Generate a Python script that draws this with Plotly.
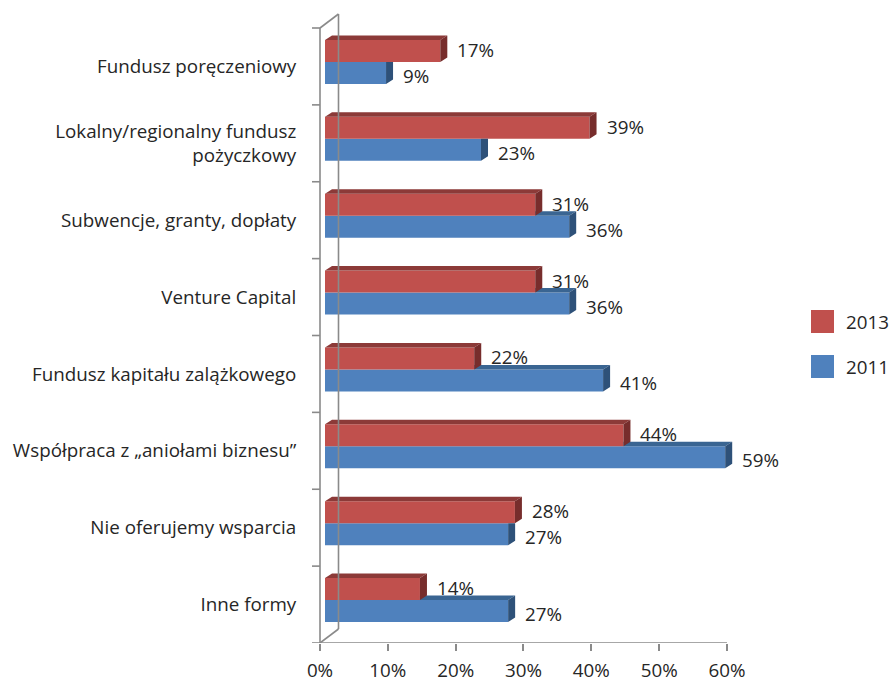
import plotly.graph_objects as go

# Survey answers: forms of financial support offered (share of respondents, %)
categories = [
    "Fundusz poręczeniowy",
    "Lokalny/regionalny fundusz<br>pożyczkowy",
    "Subwencje, granty, dopłaty",
    "Venture Capital",
    "Fundusz kapitału zalążkowego",
    "Współpraca z „aniołami biznesu”",
    "Nie oferujemy wsparcia",
    "Inne formy",
]
values_2013 = [17, 39, 31, 31, 22, 44, 28, 14]
values_2011 = [9, 23, 36, 36, 41, 59, 27, 27]
series_names = ["2013", "2011"]
x_tick_values = [0, 10, 20, 30, 40, 50, 60]
x_tick_labels = ["0%", "10%", "20%", "30%", "40%", "50%", "60%"]

# Figure / plot-area geometry (pixels)
W, H = 890, 686
M_L, M_R, M_T, M_B = 311, 150, 12, 43
PX_PER_PCT = 6.783          # horizontal scale of the front plane
PX_PER_CAT = 76.875         # height of one category band
X0_PX = 320                 # pixel position of 0 %
plot_w = W - M_L - M_R
plot_h = H - M_T - M_B
x_min = -(X0_PX - M_L) / PX_PER_PCT
x_max = x_min + plot_w / PX_PER_PCT
y_max = plot_h / PX_PER_CAT

n = len(categories)
centers = [n - i - 0.5 for i in range(n)]

# 3-D look: bars sit a little behind the front plane, with a top and side face
BAR_SHIFT_X = 5 / PX_PER_PCT
DEPTH_X = 7 / PX_PER_PCT
DEPTH_Y = 4.5 / PX_PER_CAT
BAR_H = 22 / PX_PER_CAT
RED_OFF = 15.5 / PX_PER_CAT
BLUE_OFF = -6.5 / PX_PER_CAT
WALL_X = 18.5 / PX_PER_PCT
WALL_Y = 14 / PX_PER_CAT

RED, RED_TOP, RED_SIDE = "#C0504D", "#8C3A38", "#772D2C"
BLUE, BLUE_TOP, BLUE_SIDE = "#4F81BD", "#3A6592", "#2E5179"
AXIS = "#8A8A8A"
TEXT = "#262626"
FONT = "Open Sans"
FS = 18.8

fig = go.Figure()


def poly_trace(polys, color):
    xs, ys = [], []
    for p in polys:
        for (px, py) in p + [p[0]]:
            xs.append(px)
            ys.append(py)
        xs.append(None)
        ys.append(None)
    return go.Scatter(x=xs, y=ys, mode="lines", fill="toself", fillcolor=color,
                      line=dict(width=0, color=color), hoverinfo="skip",
                      showlegend=False)


red_y = [c + RED_OFF for c in centers]
blue_y = [c + BLUE_OFF for c in centers]

# Front faces
fig.add_trace(go.Bar(name=series_names[1], y=blue_y, x=values_2011,
                     base=[BAR_SHIFT_X] * n, orientation="h", width=BAR_H,
                     marker=dict(color=BLUE, line=dict(width=0)),
                     showlegend=False))
fig.add_trace(go.Bar(name=series_names[0], y=red_y, x=values_2013,
                     base=[BAR_SHIFT_X] * n, orientation="h", width=BAR_H,
                     marker=dict(color=RED, line=dict(width=0)),
                     showlegend=False))

# Top and side faces of the 2011 bars (the parts not hidden by the 2013 bars)
blue_tops, blue_sides = [], []
for yb, vb, vr in zip(blue_y, values_2011, values_2013):
    x0 = BAR_SHIFT_X
    xb = x0 + vb
    xr = x0 + vr
    lo, hi = yb - BAR_H / 2, yb + BAR_H / 2
    if xb > xr:
        blue_tops.append([(xr, hi), (xb, hi), (xb + DEPTH_X, hi + DEPTH_Y),
                          (xr, hi + DEPTH_Y)])
        blue_sides.append([(xb, lo), (xb, hi), (xb + DEPTH_X, hi + DEPTH_Y),
                           (xb + DEPTH_X, lo + DEPTH_Y)])
    else:
        blue_sides.append([(xb, lo), (xb, hi), (xb + DEPTH_X, hi),
                           (xb + DEPTH_X, lo + DEPTH_Y)])
fig.add_trace(poly_trace(blue_tops, BLUE_TOP))
fig.add_trace(poly_trace(blue_sides, BLUE_SIDE))

# Top and side faces of the 2013 bars
red_tops, red_sides = [], []
for yr, vr in zip(red_y, values_2013):
    x0 = BAR_SHIFT_X
    xr = x0 + vr
    lo, hi = yr - BAR_H / 2, yr + BAR_H / 2
    red_tops.append([(x0, hi), (xr, hi), (xr + DEPTH_X, hi + DEPTH_Y),
                     (x0 + DEPTH_X, hi + DEPTH_Y)])
    red_sides.append([(xr, lo), (xr, hi), (xr + DEPTH_X, hi + DEPTH_Y),
                      (xr + DEPTH_X, lo + DEPTH_Y)])
fig.add_trace(poly_trace(red_tops, RED_TOP))
fig.add_trace(poly_trace(red_sides, RED_SIDE))

# Value labels
annotations = []
for ys, vals, dy in ((red_y, values_2013, 1), (blue_y, values_2011, -3)):
    for y, v in zip(ys, vals):
        annotations.append(dict(x=BAR_SHIFT_X + v + DEPTH_X, y=y, xref="x", yref="y",
                                text=f"{v}%", showarrow=False, xanchor="left",
                                yanchor="middle", xshift=8, yshift=dy,
                                font=dict(family=FONT, size=FS, color=TEXT)))

# Frame: front axis line, back wall edge, connecting obliques, floor line, left ticks
shapes = []
line_style = dict(color=AXIS, width=1.6)
shapes.append(dict(type="line", xref="x", yref="y", x0=0, y0=0, x1=0, y1=n, line=line_style))
shapes.append(dict(type="line", xref="x", yref="y", x0=WALL_X, y0=WALL_Y,
                   x1=WALL_X, y1=n + WALL_Y, line=line_style))
shapes.append(dict(type="line", xref="x", yref="y", x0=0, y0=0, x1=WALL_X, y1=WALL_Y, line=line_style))
shapes.append(dict(type="line", xref="x", yref="y", x0=0, y0=n, x1=WALL_X, y1=n + WALL_Y, line=line_style))
shapes.append(dict(type="line", xref="x", yref="y", x0=0, y0=0, x1=x_tick_values[-1], y1=0, line=line_style))
for k in range(n + 1):
    shapes.append(dict(type="line", xref="x", yref="y", x0=-8 / PX_PER_PCT, y0=k,
                       x1=0, y1=k, line=line_style))


# Legend drawn as squares with labels to the right
def px_to_paper(px, py):
    return (px - M_L) / plot_w, (H - M_B - py) / plot_h


for name, color, top_px in ((series_names[0], RED, 310), (series_names[1], BLUE, 355)):
    ax0, ay1 = px_to_paper(811, top_px)
    ax1, ay0 = px_to_paper(834, top_px + 23)
    shapes.append(dict(type="rect", xref="paper", yref="paper", x0=ax0, x1=ax1,
                       y0=ay0, y1=ay1, fillcolor=color, line=dict(width=0)))
    tx, ty = px_to_paper(844, top_px + 11.5)
    annotations.append(dict(x=tx, y=ty, xref="paper", yref="paper", text=name,
                            showarrow=False, xanchor="left", yanchor="middle",
                            font=dict(family=FONT, size=FS, color=TEXT)))

fig.update_layout(
    width=W, height=H,
    margin=dict(l=M_L, r=M_R, t=M_T, b=M_B, pad=0, autoexpand=False),
    paper_bgcolor="white", plot_bgcolor="white",
    barmode="overlay",
    showlegend=False,
    font=dict(family=FONT, size=FS, color=TEXT),
    xaxis=dict(range=[x_min, x_max], tickvals=x_tick_values, ticktext=x_tick_labels,
               ticks="outside", ticklen=7, tickcolor=AXIS, tickwidth=1.6,
               ticklabelstandoff=3, automargin=False,
               showgrid=False, zeroline=False, showline=False, fixedrange=True,
               tickfont=dict(family=FONT, size=FS, color=TEXT)),
    yaxis=dict(range=[0, y_max], tickvals=centers, ticktext=categories,
               ticks="outside", ticklen=10, tickcolor="rgba(0,0,0,0)",
               automargin=False,
               showgrid=False, zeroline=False, showline=False, fixedrange=True,
               tickfont=dict(family=FONT, size=FS, color=TEXT)),
    shapes=shapes,
    annotations=annotations,
)

fig.write_html("out.html")
